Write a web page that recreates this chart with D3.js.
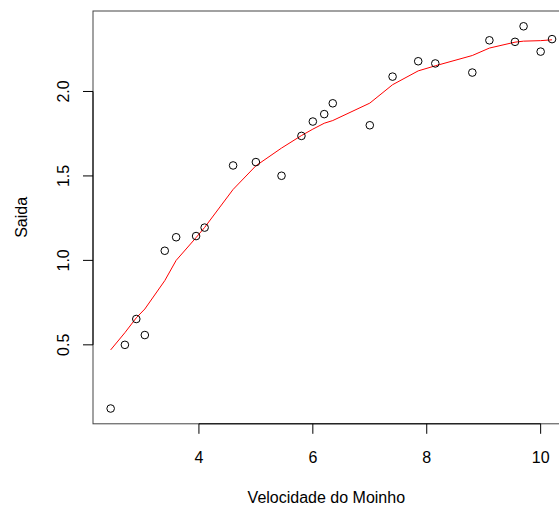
<!DOCTYPE html>
<html>
<head>
<meta charset="utf-8">
<script src="https://cdn.jsdelivr.net/npm/d3@7"></script>
<style>
html,body{margin:0;padding:0;background:#fff;overflow:hidden;}
svg{display:block;font-family:"Liberation Sans",Arial,Helvetica,sans-serif;}
</style>
</head>
<body>
<svg id="chart" width="559" height="506"></svg>
<script>
// Observed data: wind velocity vs DC output
const velocidade = [5.00,6.00,3.40,2.70,10.00,9.70,9.55,3.05,8.15,6.20,2.90,6.35,4.60,5.80,7.40,3.60,7.85,8.80,7.00,5.45,9.10,10.20,4.10,3.95,2.45];
const saida      = [1.582,1.822,1.057,0.500,2.236,2.386,2.294,0.558,2.166,1.866,0.653,1.930,1.562,1.737,2.088,1.137,2.179,2.112,1.800,1.501,2.303,2.310,1.194,1.144,0.123];

// Smooth fitted curve (red)
const curveX = [2.45,2.70,2.90,3.05,3.40,3.60,3.95,4.10,4.60,5.00,5.45,5.80,6.00,6.20,6.35,7.00,7.40,7.85,8.15,8.80,9.10,9.55,9.70,10.00,10.20];
const curveY = [0.470,0.572,0.660,0.712,0.880,1.000,1.135,1.195,1.420,1.560,1.665,1.739,1.777,1.812,1.828,1.931,2.040,2.122,2.152,2.213,2.257,2.292,2.298,2.301,2.306];

const xTicks = [4,6,8,10];
const yTicks = [0.5,1.0,1.5,2.0];
const xLabel = "Velocidade do Moinho";
const yLabel = "Saida";

const mLeft = 93, mTop = 11, mRight = 569.7, mBottom = 423.8;

const svg = d3.select("#chart");

const x = d3.scaleLinear().domain([2.14, 10.51]).range([mLeft, mRight]);
const y = d3.scaleLinear().domain([0.0325, 2.4765]).range([mBottom, mTop]);

// box
svg.append("rect")
  .attr("x", mLeft).attr("y", mTop)
  .attr("width", mRight-mLeft).attr("height", mBottom-mTop)
  .attr("fill","none").attr("stroke","#444").attr("stroke-width",1);

// x axis
const gx = svg.append("g").attr("transform",`translate(0,${mBottom})`);
gx.append("line").attr("x1",x(xTicks[0])).attr("x2",x(xTicks[xTicks.length-1]))
  .attr("y1",0).attr("y2",0).attr("stroke","#000");
xTicks.forEach(t=>{
  gx.append("line").attr("x1",x(t)).attr("x2",x(t)).attr("y1",0).attr("y2",10).attr("stroke","#000");
  gx.append("text").attr("x",x(t)).attr("y",39).attr("text-anchor","middle")
    .attr("font-size",16).attr("fill","#000").text(d3.format("d")(t));
});

// y axis
const gy = svg.append("g").attr("transform",`translate(${mLeft},0)`);
gy.append("line").attr("x1",0).attr("x2",0).attr("y1",y(yTicks[0])).attr("y2",y(yTicks[yTicks.length-1])).attr("stroke","#000");
yTicks.forEach(t=>{
  gy.append("line").attr("x1",0).attr("x2",-10).attr("y1",y(t)).attr("y2",y(t)).attr("stroke","#000");
  gy.append("text").attr("transform",`translate(-24,${y(t)}) rotate(-90)`)
    .attr("text-anchor","middle").attr("font-size",16).attr("fill","#000")
    .text(d3.format(".1f")(t));
});

// axis titles
svg.append("text").attr("x",(mLeft+mRight)/2 - 5).attr("y",503)
  .attr("text-anchor","middle").attr("font-size",16).attr("fill","#000").text(xLabel);
svg.append("text").attr("transform",`translate(27,${(mTop+mBottom)/2}) rotate(-90)`)
  .attr("text-anchor","middle").attr("font-size",16).attr("fill","#000").text(yLabel);

// fitted line
const line = d3.line().x((d,i)=>x(curveX[i])).y(d=>y(d));
svg.append("path").datum(curveY).attr("d",line)
  .attr("fill","none").attr("stroke","#ff0000").attr("stroke-width",1);

// points
svg.append("g").selectAll("circle").data(velocidade).join("circle")
  .attr("cx",d=>x(d)).attr("cy",(d,i)=>y(saida[i])).attr("r",3.8)
  .attr("fill","none").attr("stroke","#000").attr("stroke-width",1);
</script>
</body>
</html>
